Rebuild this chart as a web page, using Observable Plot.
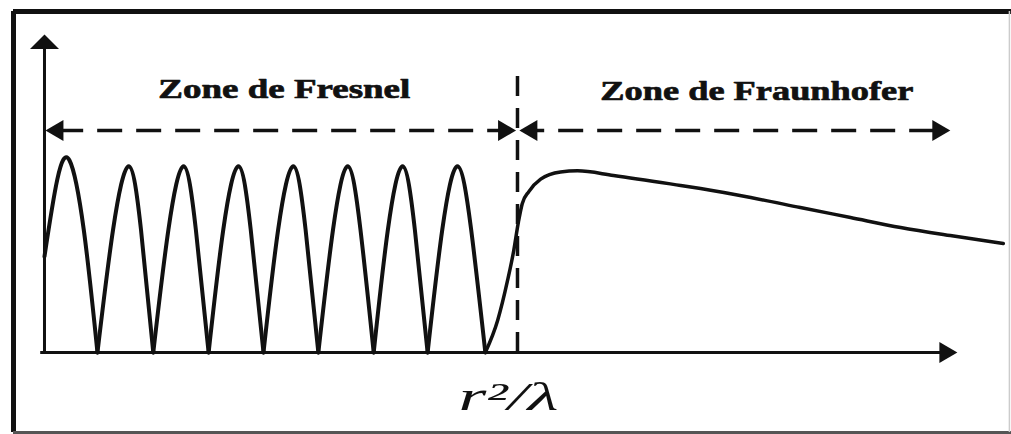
<!DOCTYPE html>
<html>
<head>
<meta charset="utf-8">
<script src="https://cdn.jsdelivr.net/npm/d3@7"></script>
<script src="https://cdn.jsdelivr.net/npm/@observablehq/plot@0.6"></script>
<style>
  html, body { margin: 0; padding: 0; background: #fff; overflow: hidden; }
  svg { display: block; }
</style>
</head>
<body>
<div id="chart"></div>
<script>
// ---- Data (x in units of r²/λ, y in units of the Fresnel peak amplitude) ----
// Fresnel zone oscillation, one arch per id (trough → shoulder → peak → shoulder → trough)
const fresnelArch = [1,1,1,1,1, 2,2,2,2,2, 3,3,3,3,3, 4,4,4,4,4, 5,5,5,5,5, 6,6,6,6,6, 7,7,7,7,7, 8,8,8,8,8];
const fresnelX = [
  0.000, 0.027, 0.053, 0.083, 0.112,
  0.112, 0.145, 0.178, 0.204, 0.230,
  0.230, 0.262, 0.294, 0.320, 0.347,
  0.347, 0.378, 0.410, 0.436, 0.463,
  0.463, 0.494, 0.526, 0.552, 0.579,
  0.579, 0.610, 0.641, 0.668, 0.696,
  0.696, 0.726, 0.757, 0.783, 0.810,
  0.810, 0.841, 0.873, 0.902, 0.932
];
const fresnelY = [
  0.50, 0.90, 1.00, 0.64, 0,
  0, 0.64, 0.97, 0.64, 0,
  0, 0.64, 0.97, 0.64, 0,
  0, 0.64, 0.97, 0.64, 0,
  0, 0.64, 0.97, 0.64, 0,
  0, 0.64, 0.97, 0.64, 0,
  0, 0.64, 0.97, 0.64, 0,
  0, 0.64, 0.97, 0.64, 0
];
// Last rise and Fraunhofer zone decay
const fraunX = [0.932, 0.958, 0.979, 0.992, 1.002, 1.010, 1.024, 1.049, 1.091, 1.127, 1.203, 1.345, 1.387, 1.493, 1.598, 1.704, 1.810, 1.915, 2.027];
const fraunY = [0.000, 0.167, 0.375, 0.530, 0.680, 0.775, 0.838, 0.903, 0.940, 0.946, 0.922, 0.870, 0.854, 0.807, 0.755, 0.703, 0.651, 0.609, 0.568];

// Boundary between zones (r²/λ) and schematic axes extents
const boundaryX = [1.0];
const boundaryTop = [1.495];
const axisXEnd = [1.930];
const axisYEnd = [1.656];
const zoneArrowY = [1.156];
const zoneArrowEnds = [0.0, 1.915];

// Labels
const zoneLabels = ["Zone de Fresnel", "Zone de Fraunhofer"];
const zoneLabelX = [0.507, 1.506];
const zoneLabelY = [1.372, 1.363];
const boundaryLabel = ["r²/λ"];
const boundaryLabelX = [0.981];
const boundaryLabelY = [-0.232];

// Frame lines (figure border)
const frameLeft = [-0.0655];
const frameRight = [2.040];
const frameTop = [1.776];
const frameBottom = [-0.417];

// ---- Build tables ----
const fresnel = fresnelX.map((x, i) => ({x, y: fresnelY[i], arch: fresnelArch[i]}));
const fraun = fraunX.map((x, i) => ({x, y: fraunY[i]}));

// Arrowhead symbols: tip at origin, pointing up (rotate to orient)
const flatHead = { draw(ctx, size) { const r = Math.sqrt(size / Math.PI); ctx.moveTo(0, 0); ctx.lineTo(-r, r); ctx.lineTo(r, r); ctx.closePath(); } };
const head = { draw(ctx, size) { const r = Math.sqrt(size / Math.PI); ctx.moveTo(0, 0); ctx.lineTo(-0.58 * r, r); ctx.lineTo(0.58 * r, r); ctx.closePath(); } };

const ink = "#111";
const arrowHeads = [
  {x: axisXEnd[0], y: 0, rotate: 90},
  {x: zoneArrowEnds[0] + 0.002, y: zoneArrowY[0], rotate: -90},
  {x: boundaryX[0] - 0.003, y: zoneArrowY[0], rotate: 90},
  {x: boundaryX[0] + 0.004, y: zoneArrowY[0], rotate: -90},
  {x: zoneArrowEnds[1], y: zoneArrowY[0], rotate: 90}
];

const chart = Plot.plot({
  width: 1011,
  height: 434,
  margin: 0,
  x: {domain: [-0.0930, 2.0444], axis: null},
  y: {domain: [-0.4271, 1.8333], axis: null},
  style: {background: "#fff"},
  marks: [
    // figure border
    Plot.ruleX(frameLeft, {x: d => d, y1: frameBottom[0], y2: frameTop[0], stroke: ink, strokeWidth: 5}),
    Plot.ruleY(frameTop, {y: d => d, x1: frameLeft[0], x2: 2.1, stroke: ink, strokeWidth: 5}),
    Plot.ruleY(frameBottom, {y: d => d, x1: frameLeft[0], x2: 2.1, stroke: "#555", strokeWidth: 3}),
    Plot.ruleX(frameRight, {x: d => d, y1: frameBottom[0], y2: frameTop[0], stroke: "#ccc", strokeWidth: 1.5}),
    // axes
    Plot.ruleX([0], {x: d => d, y1: 0, y2: axisYEnd[0] - 0.05, stroke: ink, strokeWidth: 3}),
    Plot.ruleY([0], {y: d => d, x1: -0.008, x2: axisXEnd[0] - 0.03, stroke: ink, strokeWidth: 3}),
    Plot.dot([{x: 0, y: axisYEnd[0]}], {x: "x", y: "y", symbol: flatHead, r: 14.5, fill: ink, stroke: "none"}),
    // zone dashed arrows
    Plot.ruleY(zoneArrowY, {y: d => d, x1: zoneArrowEnds[0] + 0.03, x2: boundaryX[0] - 0.03, stroke: ink, strokeWidth: 3.5, strokeDasharray: "25,14"}),
    Plot.ruleY(zoneArrowY, {y: d => d, x1: boundaryX[0] + 0.03, x2: zoneArrowEnds[1] - 0.03, stroke: ink, strokeWidth: 3.5, strokeDasharray: "25,14", strokeDashoffset: 12}),
    Plot.dot(arrowHeads, {x: "x", y: "y", rotate: "rotate", symbol: head, r: 18, fill: ink, stroke: "none"}),
    // boundary r²/λ
    Plot.ruleX(boundaryX, {x: d => d, y1: 0, y2: boundaryTop[0], stroke: ink, strokeWidth: 3.5, strokeDasharray: "20,12"}),
    // curves
    Plot.line(fresnel, {x: "x", y: "y", z: "arch", curve: "natural", stroke: ink, strokeWidth: 4, strokeLinejoin: "round", strokeLinecap: "round"}),
    Plot.line(fraun, {x: "x", y: "y", curve: "monotone-x", stroke: ink, strokeWidth: 3.5, strokeLinejoin: "round", strokeLinecap: "round"}),
    // labels
    Plot.text(zoneLabels, {x: (d, i) => zoneLabelX[i], y: (d, i) => zoneLabelY[i], text: d => d, fontFamily: "Liberation Serif", fontWeight: "bold", fontSize: 28, fill: ink, stroke: ink, strokeWidth: 0.7, textAnchor: "middle", lineAnchor: "middle"}),
    Plot.text(boundaryLabel, {x: (d, i) => boundaryLabelX[i], y: (d, i) => boundaryLabelY[i], text: d => d, fontFamily: "Liberation Serif", fontStyle: "italic", fontSize: 40, fill: ink, textAnchor: "middle", lineAnchor: "middle"})
  ]
});

// The reference artwork is horizontally stretched: stretch text glyphs to match
const labelLengths = [252, 313, 100];
d3.select(chart).selectAll("text").each(function(d, i) {
  if (i < labelLengths.length) {
    d3.select(this).attr("textLength", labelLengths[i]).attr("lengthAdjust", "spacingAndGlyphs");
  }
});

document.getElementById("chart").appendChild(chart);
</script>
</body>
</html>
